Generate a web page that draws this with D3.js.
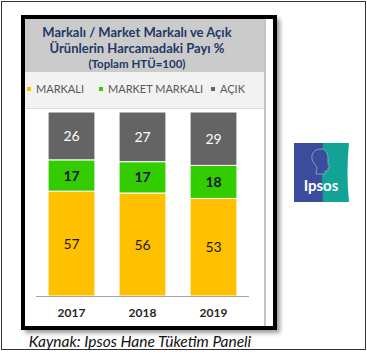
<!DOCTYPE html>
<html>
<head>
<meta charset="utf-8">
<script src="https://cdn.jsdelivr.net/npm/d3@7"></script>
<style>
  body { margin: 0; background: #fff; }
  svg { display: block; }
</style>
</head>
<body>
<svg width="367" height="362"></svg>
<script>
// data
var years = ["2017", "2018", "2019"];
var markali = [57, 56, 53];
var marketMarkali = [17, 17, 18];
var acik = [26, 27, 29];
var seriesNames = ["MARKALI", "MARKET MARKALI", "AÇIK"];
var titleLines = ["Markalı / Market Markalı ve Açık", "Ürünlerin Harcamadaki Payı %", "(Toplam HTÜ=100)"];
var caption = "Kaynak: Ipsos Hane Tüketim Paneli";

var svg = d3.select("svg");
var font = "Lato, 'Open Sans', sans-serif";

var rows = years.map(function(y, i) {
    return { year: y, MARKALI: markali[i], "MARKET MARKALI": marketMarkali[i], "AÇIK": acik[i] };
});
var stack = d3.stack().keys(seriesNames)(rows);

var color = d3.scaleOrdinal()
    .domain(seriesNames)
    .range(["#ffc000", "#33cc00", "#646464"]);

// outer border
svg.append("rect")
    .attr("x", 1.5).attr("y", 1.5)
    .attr("width", 364).attr("height", 348)
    .attr("fill", "none")
    .attr("stroke", "#333")
    .attr("stroke-width", 1);

// shadow of the framed picture
var defs = svg.append("defs");
var blur = defs.append("filter").attr("id", "blur").attr("x", "-20%").attr("y", "-20%").attr("width", "140%").attr("height", "140%");
blur.append("feGaussianBlur").attr("stdDeviation", 2);
svg.append("rect")
    .attr("x", 25).attr("y", 19)
    .attr("width", 255).attr("height", 314)
    .attr("fill", "#9a9a9a")
    .attr("filter", "url(#blur)");

// black frame
svg.append("rect")
    .attr("x", 23).attr("y", 17)
    .attr("width", 252).attr("height", 311)
    .attr("fill", "#fff")
    .attr("stroke", "#000")
    .attr("stroke-width", 4);

// header band
svg.append("rect")
    .attr("x", 25).attr("y", 19)
    .attr("width", 240).attr("height", 53)
    .attr("fill", "#cbcbcb");

// legend band
svg.append("rect")
    .attr("x", 25).attr("y", 72)
    .attr("width", 240).attr("height", 36)
    .attr("fill", "#f2f2f2");
svg.append("line")
    .attr("x1", 25).attr("x2", 265)
    .attr("y1", 108.5).attr("y2", 108.5)
    .attr("stroke", "#dcdcdc");

// right edge shadow of pasted chart
svg.append("rect")
    .attr("x", 264).attr("y", 19)
    .attr("width", 2).attr("height", 307)
    .attr("fill", "#c4c4c4");

// title
svg.append("g")
    .selectAll("text")
    .data(titleLines)
    .enter()
    .append("text")
    .attr("x", 137)
    .attr("y", function(d, i) { return [37, 53, 68][i]; })
    .attr("text-anchor", "middle")
    .style("font-family", font)
    .style("font-weight", "bold")
    .style("font-size", function(d, i) { return i < 2 ? "13px" : "11.5px"; })
    .style("fill", "#1f3864")
    .text(function(d) { return d; });

// legend
var legendX = [27, 99, 211];
var legend = svg.append("g")
    .selectAll("g")
    .data(seriesNames)
    .enter()
    .append("g")
    .attr("transform", function(d, i) { return "translate(" + legendX[i] + ",0)"; });
legend.append("rect")
    .attr("x", 0).attr("y", 87)
    .attr("width", 4).attr("height", 4)
    .attr("fill", function(d) { return color(d); });
legend.append("text")
    .attr("x", 9).attr("y", 93)
    .style("font-family", font)
    .style("font-size", "11px")
    .style("fill", "#595959")
    .text(function(d) { return d; });

// scales
var x = d3.scaleBand()
    .domain(years)
    .range([36, 249])
    .paddingInner(0.34)
    .paddingOuter(0.17);
var y = d3.scaleLinear()
    .domain([0, 100])
    .range([296, 112]);

// bars
var layers = svg.append("g")
    .selectAll("g")
    .data(stack)
    .enter()
    .append("g")
    .attr("fill", function(d) { return color(d.key); });

layers.selectAll("rect")
    .data(function(d) { return d; })
    .enter()
    .append("rect")
    .attr("x", function(d) { return x(d.data.year); })
    .attr("y", function(d) { return y(d[1]); })
    .attr("width", x.bandwidth())
    .attr("height", function(d) { return y(d[0]) - y(d[1]); })
    .attr("stroke", "#fff")
    .attr("stroke-width", 1);

// value labels
var labelStyle = {
    "MARKALI": { fill: "#1a1a1a", weight: "normal" },
    "MARKET MARKALI": { fill: "#14143c", weight: "bold" },
    "AÇIK": { fill: "#ffffff", weight: "normal" }
};
layers.each(function(s) {
    d3.select(this).selectAll("text")
        .data(s)
        .enter()
        .append("text")
        .attr("x", function(d) { return x(d.data.year) + x.bandwidth() / 2; })
        .attr("y", function(d) { return (y(d[0]) + y(d[1])) / 2; })
        .attr("dy", "0.36em")
        .attr("text-anchor", "middle")
        .style("font-family", font)
        .style("font-size", "14px")
        .style("font-weight", labelStyle[s.key].weight)
        .style("fill", labelStyle[s.key].fill)
        .text(function(d) { return d.data[s.key]; });
});

// x axis
var xAxis = svg.append("g")
    .attr("transform", "translate(0,296)")
    .call(d3.axisBottom(x).tickSize(0).tickPadding(12));
xAxis.select(".domain")
    .attr("d", "M36,0.5H249")
    .attr("stroke", "#a6a6a6")
    .attr("stroke-width", 1);
xAxis.selectAll("text")
    .style("font-family", font)
    .style("font-size", "12px")
    .style("font-weight", "bold")
    .style("fill", "#262626");

// caption
svg.append("text")
    .attr("x", 140)
    .attr("y", 347)
    .attr("text-anchor", "middle")
    .style("font-family", font)
    .style("font-style", "italic")
    .style("font-size", "15.5px")
    .style("fill", "#111")
    .text(caption);

// Ipsos logo
var logo = svg.append("g").attr("transform", "translate(294,143)");
logo.append("path")
    .attr("d", "M0,0H55Q52,30 55,59H0Z")
    .attr("fill", "#13a396");
logo.append("path")
    .attr("d", "M0,0H29Q27,30 29,59H0Z")
    .attr("fill", "#3c4c9c");
// head silhouette (profile facing right)
logo.append("path")
    .attr("d", "M27,6C21,6 17,10 18,16C19,20 22,22 23,25L22,31H31L31,28H34L34,25L36,24L34,21L34,14C33,9 31,6 27,6Z")
    .attr("fill", "#3c4c9c")
    .attr("stroke", "#7fb8c4")
    .attr("stroke-width", 0.8);
logo.append("text")
    .attr("x", 27).attr("y", 48)
    .attr("text-anchor", "middle")
    .style("font-family", font)
    .style("font-weight", "bold")
    .style("font-size", "15px")
    .style("fill", "#fff")
    .text("Ipsos");
</script>
</body>
</html>
